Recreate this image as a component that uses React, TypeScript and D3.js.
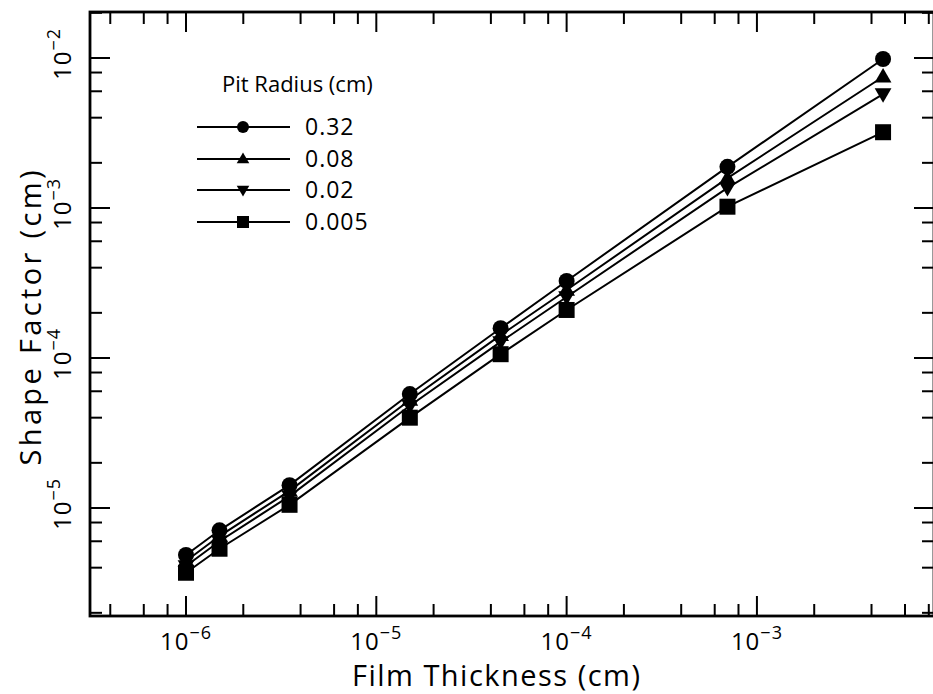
import React from "react";
import * as d3 from "d3";

const thickness = [1e-6, 1.5e-6, 3.5e-6, 1.5e-5, 4.5e-5, 1e-4, 7e-4, 4.6e-3];
const r032 = [4.86e-6, 7.1e-6, 1.42e-5, 5.75e-5, 1.58e-4, 3.26e-4, 1.88e-3, 9.85e-3];
const r008 = [4.43e-6, 6.5e-6, 1.3e-5, 5.25e-5, 1.42e-4, 2.84e-4, 1.58e-3, 7.5e-3];
const r002 = [4.1e-6, 6.0e-6, 1.2e-5, 4.8e-5, 1.28e-4, 2.55e-4, 1.36e-3, 5.75e-3];
const r0005 = [3.7e-6, 5.35e-6, 1.05e-5, 4.0e-5, 1.06e-4, 2.09e-4, 1.02e-3, 3.2e-3];
const seriesLabels = ["0.32", "0.08", "0.02", "0.005"];
const seriesMarkers = ["circle", "triUp", "triDown", "square"];
const xTickExps = [-6, -5, -4, -3];
const yTickExps = [-5, -4, -3, -2];

const W = 933;
const H = 694;
const L = 90, R = 934, T = 12, B = 616;
const FONT = "'Open Sans', 'DejaVu Sans', sans-serif";

const x = d3.scaleLog().domain([3.13e-7, 8.52e-3]).range([L, R]);
const y = d3.scaleLog().domain([1.905e-6, 2.026e-2]).range([B, T]);

function minorTicks(scale: d3.ScaleLogarithmic<number, number>) {
  const [a, b] = scale.domain();
  const out: { v: number; major: boolean }[] = [];
  for (let e = Math.floor(Math.log10(a)) - 1; e <= Math.ceil(Math.log10(b)); e++) {
    for (const m of [1, 2, 4, 6, 8]) {
      const v = m * Math.pow(10, e);
      if (v >= a && v <= b) out.push({ v, major: m === 1 });
    }
  }
  return out;
}

function marker(kind: string, cx: number, cy: number, s: number, key: string) {
  if (kind === "circle") return <circle key={key} cx={cx} cy={cy} r={s / 2} fill="#000" />;
  if (kind === "square")
    return <rect key={key} x={cx - s / 2} y={cy - s / 2} width={s} height={s} fill="#000" />;
  const h = s * 0.9;
  const w = s * 1.05;
  if (kind === "triUp")
    return (
      <path key={key} d={`M${cx},${cy - h * 0.6}L${cx + w / 2},${cy + h * 0.4}L${cx - w / 2},${cy + h * 0.4}Z`} fill="#000" />
    );
  return (
    <path key={key} d={`M${cx},${cy + h * 0.6}L${cx + w / 2},${cy - h * 0.4}L${cx - w / 2},${cy - h * 0.4}Z`} fill="#000" />
  );
}

export default function App() {
  const series = [r032, r008, r002, r0005];
  const line = d3
    .line<number>()
    .x((_, i) => x(thickness[i]))
    .y((d) => y(d));
  const xt = minorTicks(x);
  const yt = minorTicks(y);
  const legendY = [127, 159, 190, 222];
  return (
    <div style={{ position: "absolute", left: 0, top: 0 }}>
      <svg width={W} height={H} style={{ display: "block", background: "#fff" }}>
        <rect x={L} y={T} width={R - L} height={B - T} fill="none" stroke="#000" strokeWidth={2.8} />
        {xt.map((t, i) => {
          const px = x(t.v);
          const len = t.major ? 20 : 12;
          return (
            <g key={"xt" + i}>
              <line x1={px} x2={px} y1={B} y2={B - len} stroke="#000" strokeWidth={2} />
              <line x1={px} x2={px} y1={T} y2={T + len} stroke="#000" strokeWidth={2} />
            </g>
          );
        })}
        {yt.map((t, i) => {
          const py = y(t.v);
          const len = t.major ? 20 : 12;
          return (
            <g key={"yt" + i}>
              <line x1={L} x2={L + len} y1={py} y2={py} stroke="#000" strokeWidth={2} />
              <line x1={R} x2={R - len} y1={py} y2={py} stroke="#000" strokeWidth={2} />
            </g>
          );
        })}
        {xTickExps.map((e) => (
          <text
            key={"xl" + e}
            x={x(Math.pow(10, e))}
            y={650}
            textAnchor="middle"
            fontFamily={FONT}
            fontSize={24}
            letterSpacing={1}
          >
            10
            <tspan fontSize={18} dy={-11}>
              {"\u2212" + Math.abs(e)}
            </tspan>
          </text>
        ))}
        {yTickExps.map((e) => (
          <text
            key={"yl" + e}
            transform={`translate(71,${y(Math.pow(10, e)) - 4}) rotate(-90)`}
            textAnchor="middle"
            fontFamily={FONT}
            fontSize={24}
            letterSpacing={1}
          >
            10
            <tspan fontSize={18} dy={-11}>
              {"\u2212" + Math.abs(e)}
            </tspan>
          </text>
        ))}
        <text
          x={496}
          y={686}
          textAnchor="middle"
          fontFamily={FONT}
          fontSize={29}
          textLength={288}
          lengthAdjust="spacing"
        >
          Film Thickness (cm)
        </text>
        <text
          transform="translate(41,318) rotate(-90)"
          textAnchor="middle"
          fontFamily={FONT}
          fontSize={29}
          textLength={295}
          lengthAdjust="spacing"
        >
          Shape Factor (cm)
        </text>
        {series.map((s, si) => (
          <path key={"ln" + si} d={line(s) || ""} fill="none" stroke="#000" strokeWidth={2} />
        ))}
        {series
          .map((s, si) => ({ s, si }))
          .reverse()
          .map(({ s, si }) => s.map((v, i) => marker(seriesMarkers[si], x(thickness[i]), y(v), 16, `m${si}-${i}`)))}
        <text x={222} y={92} fontFamily={FONT} fontSize={22}>
          Pit Radius (cm)
        </text>
        {seriesLabels.map((lab, i) => (
          <g key={"lg" + i}>
            <line x1={197} x2={290} y1={legendY[i]} y2={legendY[i]} stroke="#000" strokeWidth={1.8} />
            {marker(seriesMarkers[i], 243, legendY[i], 12, "lm" + i)}
            <text x={305} y={legendY[i] + 8} fontFamily={FONT} fontSize={23} letterSpacing={1}>
              {lab}
            </text>
          </g>
        ))}
      </svg>
    </div>
  );
}
